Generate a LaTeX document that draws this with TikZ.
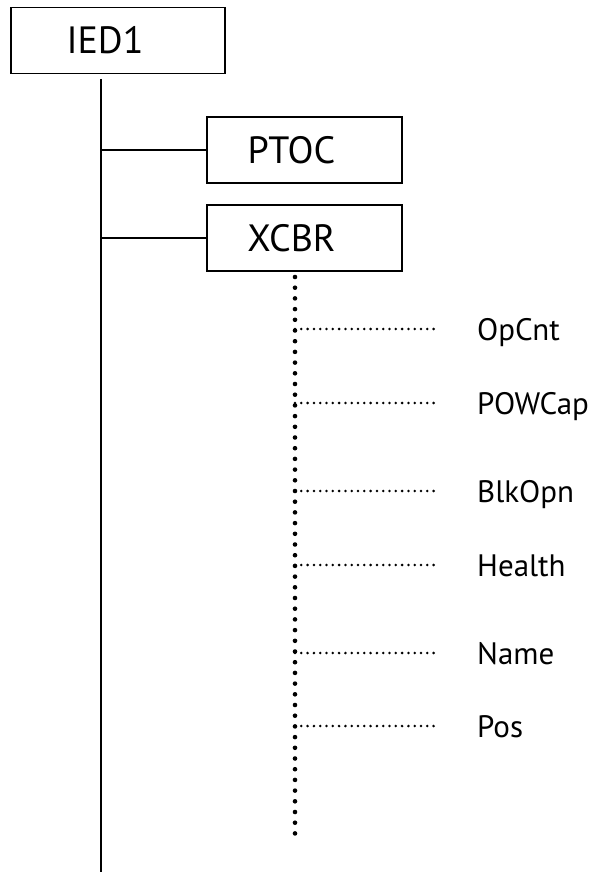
\documentclass[tikz,border=0pt]{standalone}
\usepackage{fontspec}
\setmainfont{PT Sans}
\usetikzlibrary{positioning}

\begin{document}
\begin{tikzpicture}[
    x=1pt, y=-1pt,
    box/.style={draw, line width=1.6pt, minimum height=66pt, font=\fontsize{38}{44}\selectfont, execute at begin node={\hspace*{-26pt}}},
    leaf/.style={inner sep=0pt, text height=22pt, text depth=0pt, font=\fontsize{31}{36}\selectfont},
    trunk/.style={line width=1.5pt},
    bigdots/.style={line width=4.6pt, line cap=round, dash pattern=on 0pt off 10.7pt},
    smalldots/.style={line width=2.8pt, line cap=round, dash pattern=on 0pt off 6.3pt}
]
    \useasboundingbox (0,0) rectangle (603,874);
    % logical device and its nodes
    \node[box, minimum width=214pt] (ied) at (118,40.5) {IED1};
    \node[box, minimum width=195pt] (ptoc) at (304.5,150) {PTOC};
    \node[box, minimum width=195pt] (xcbr) at (304.5,238) {XCBR};
    \coordinate (top) at (101,79);
    \coordinate (bottom) at (101,872);
    \draw[trunk] (top) -- (bottom);
    \draw[trunk] (top |- ptoc) -- (ptoc.west);
    \draw[trunk] (top |- xcbr) -- (xcbr.west);
    % data objects of XCBR
    \coordinate (xtop) at (295,277);
    \coordinate (xend) at (295,843);
    \draw[bigdots] (xtop) -- (xend);
    \node[leaf, anchor=west] (opcnt) at (477,329) {OpCnt};
    \node[leaf, anchor=west] (powcap) at (477,403) {POWCap};
    \node[leaf, anchor=west] (blkopn) at (477,491) {BlkOpn};
    \node[leaf, anchor=west] (health) at (477,565) {Health};
    \node[leaf, anchor=west] (name) at (477,653) {Name};
    \node[leaf, anchor=west] (pos) at (477,726) {Pos};
    \draw[smalldots] (xtop |- opcnt) -- ([xshift=-40pt]opcnt.west);
    \draw[smalldots] (xtop |- powcap) -- ([xshift=-40pt]powcap.west);
    \draw[smalldots] (xtop |- blkopn) -- ([xshift=-40pt]blkopn.west);
    \draw[smalldots] (xtop |- health) -- ([xshift=-40pt]health.west);
    \draw[smalldots] (xtop |- name) -- ([xshift=-40pt]name.west);
    \draw[smalldots] (xtop |- pos) -- ([xshift=-40pt]pos.west);
\end{tikzpicture}
\end{document}
